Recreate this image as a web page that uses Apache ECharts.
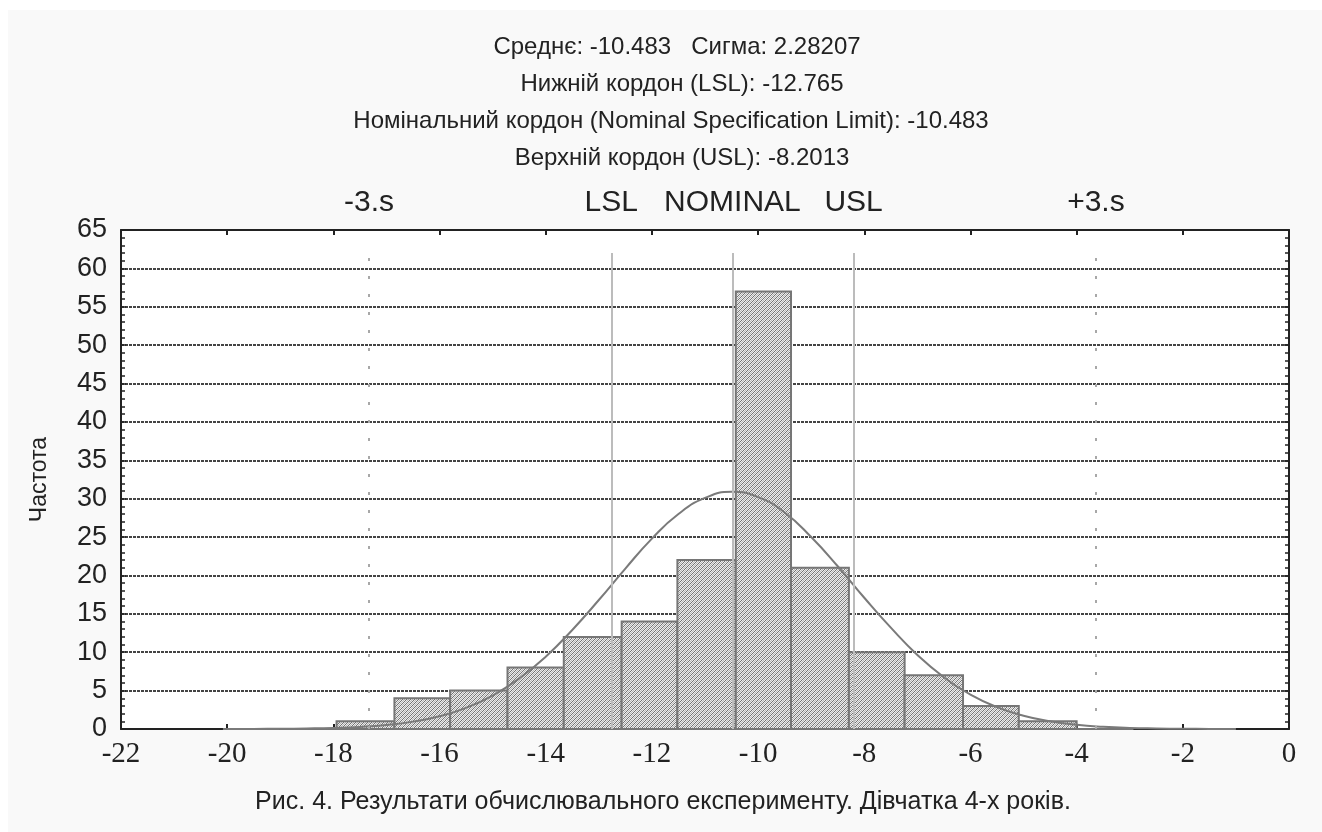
<!DOCTYPE html>
<html>
<head>
<meta charset="utf-8">
<script src="https://cdn.jsdelivr.net/npm/echarts@6/dist/echarts.min.js"></script>
<style>
  html, body { margin: 0; padding: 0; background: #ffffff; }
  #chart { position: absolute; left: 8px; top: 10px; width: 1314px; height: 822px; }
</style>
</head>
<body>
<div id="chart"></div>
<script>
// Histogram bins: edges and frequencies
const binEdges = [-20.08, -19.01, -17.94, -16.85, -15.80, -14.72, -13.66, -12.57, -11.52,
                  -10.42, -9.38, -8.29, -7.24, -6.14, -5.09, -4.00, -2.93];
const binCounts = [0, 0, 1, 4, 5, 8, 12, 14, 22, 57, 21, 10, 7, 3, 1, 0];

// Fitted normal curve, sampled every 0.5
const curveX = [-20, -19.5, -19, -18.5, -18, -17.5, -17, -16.5, -16, -15.5, -15, -14.5, -14,
                -13.5, -13, -12.5, -12, -11.5, -11, -10.5, -10, -9.5, -9, -8.5, -8, -7.5, -7,
                -6.5, -6, -5.5, -5, -4.5, -4, -3.5, -3, -2.5, -2, -1.5, -1];
const curveY = [0.0, 0.01, 0.03, 0.07, 0.14, 0.27, 0.52, 0.96, 1.66, 2.76, 4.36, 6.57, 9.42,
                12.9, 16.8, 20.9, 24.8, 28.0, 30.1, 30.9, 30.2, 28.2, 25.0, 21.2, 17.1, 13.2, 9.65,
                6.74, 4.49, 2.85, 1.73, 1.0, 0.55, 0.29, 0.14, 0.07, 0.03, 0.01, 0.0];

// Reference lines
const refNames = ['-3.s', 'LSL', 'NOMINAL', 'USL', '+3.s'];
const refValues = [-17.329, -12.765, -10.483, -8.2013, -3.637];
const refDotted = [true, false, false, false, true];
const refTop = 62;

// Header and caption texts
const headerLines = [
  'Среднє: -10.483   Сигма: 2.28207',
  'Нижній кордон (LSL): -12.765',
  'Номінальний кордон (Nominal Specification Limit): -10.483',
  'Верхній кордон (USL): -8.2013'
];
const headerCenters = [664, 669, 658, 669];
const captionText = 'Рис. 4. Результати обчислювального експерименту. Дівчатка 4-х років.';
const yAxisName = 'Частота';

// Fine diagonal hatch used to fill the bars
function makeHatch() {
  const c = document.createElement('canvas');
  c.width = 4; c.height = 4;
  const g = c.getContext('2d');
  g.fillStyle = '#ececec';
  g.fillRect(0, 0, 4, 4);
  g.fillStyle = '#727272';
  for (let i = 0; i < 4; i++) g.fillRect(i, 3 - i, 1, 1);
  g.fillStyle = '#b4b4b4';
  for (let i = 0; i < 4; i++) g.fillRect(i, (5 - i) % 4, 1, 1);
  return c;
}
const hatch = { image: makeHatch(), repeat: 'repeat' };

const barData = binCounts.map((n, i) => [binEdges[i], binEdges[i + 1], n]);
const curveData = curveX.map((x, i) => [x, curveY[i]]);

const sans = 'Liberation Sans, Arial, sans-serif';
const serif = 'Liberation Serif, Times New Roman, serif';
const ink = '#222';

const titles = headerLines.map((t, i) => ({
  text: t,
  left: headerCenters[i],
  textAlign: 'center',
  top: 18 + i * 37,
  textStyle: { fontFamily: sans, fontSize: 24, fontWeight: 'normal', color: ink, lineHeight: 28 }
}));
titles.push({
  text: captionText,
  left: 650,
  textAlign: 'center',
  top: 773,
  textStyle: { fontFamily: sans, fontSize: 25, fontWeight: 'normal', color: ink, lineHeight: 28 }
});

const markLineData = refValues.map((v, i) => [
  {
    coord: [v, 0],
    lineStyle: refDotted[i]
      ? { color: '#a8a8a8', width: 2, type: [3, 15] }
      : { color: '#bcbcbc', width: 2, type: 'solid' },
    label: { formatter: refNames[i] }
  },
  { coord: [v, refTop] }
]);

const chart = echarts.init(document.getElementById('chart'));
chart.setOption({
  backgroundColor: '#f9f9f9',
  animation: false,
  title: titles,
  grid: { left: 113, right: 33, top: 220, bottom: 103, show: true, backgroundColor: '#ffffff', borderWidth: 0 },
  xAxis: [
    {
      type: 'value', min: -22, max: 0, interval: 2, position: 'bottom',
      axisLine: { show: true, onZero: false, lineStyle: { color: ink, width: 2 } },
      axisTick: { show: true, inside: true, length: 5, lineStyle: { color: ink, width: 2 } },
      axisLabel: { fontFamily: serif, fontSize: 29, color: ink, margin: 11 },
      splitLine: { show: false }
    },
    {
      type: 'value', min: -22, max: 0, interval: 2, position: 'top',
      axisLine: { show: true, onZero: false, lineStyle: { color: ink, width: 2 } },
      axisTick: { show: true, inside: true, length: 5, lineStyle: { color: ink, width: 2 } },
      axisLabel: { show: false },
      splitLine: { show: false }
    }
  ],
  yAxis: [
    {
      type: 'value', min: 0, max: 65, interval: 5, position: 'left',
      name: yAxisName, nameLocation: 'middle', nameGap: 70, nameRotate: 90,
      nameTextStyle: { fontFamily: sans, fontSize: 23, color: ink },
      axisLine: { show: true, onZero: false, lineStyle: { color: ink, width: 2 } },
      axisTick: { show: true, inside: true, length: 5, lineStyle: { color: ink, width: 1.5 } },
      minorTick: { show: true, splitNumber: 5, length: 4, lineStyle: { color: ink, width: 1.5 } },
      axisLabel: { fontFamily: sans, fontSize: 27, color: ink, margin: 14 },
      splitLine: { show: true, lineStyle: { color: '#444', width: 2, type: [3, 1] } }
    },
    {
      type: 'value', min: 0, max: 65, interval: 5, position: 'right',
      axisLine: { show: true, onZero: false, lineStyle: { color: ink, width: 2 } },
      axisTick: { show: true, inside: true, length: 5, lineStyle: { color: ink, width: 1.5 } },
      minorTick: { show: true, splitNumber: 5, length: 4, lineStyle: { color: ink, width: 1.5 } },
      axisLabel: { show: false },
      splitLine: { show: false }
    }
  ],
  series: [
    {
      type: 'custom',
      name: 'bins',
      xAxisIndex: 0, yAxisIndex: 0,
      z: 2,
      data: barData,
      encode: { x: [0, 1], y: 2 },
      renderItem: function (params, api) {
        const p0 = api.coord([api.value(0), api.value(2)]);
        const p1 = api.coord([api.value(1), 0]);
        return {
          type: 'rect',
          shape: { x: p0[0], y: p0[1], width: p1[0] - p0[0], height: p1[1] - p0[1] },
          style: { fill: hatch, stroke: '#767676', lineWidth: 2 }
        };
      }
    },
    {
      type: 'line',
      name: 'normal',
      xAxisIndex: 0, yAxisIndex: 0,
      z: 3,
      clip: false,
      data: curveData,
      smooth: true,
      showSymbol: false,
      lineStyle: { color: '#7a7a7a', width: 2 },
      markLine: {
        silent: true,
        symbol: ['none', 'none'],
        precision: 4,
        label: {
          show: true, position: 'end', distance: 35,
          fontFamily: sans, fontSize: 30, color: ink
        },
        data: markLineData
      }
    }
  ]
});
</script>
</body>
</html>
